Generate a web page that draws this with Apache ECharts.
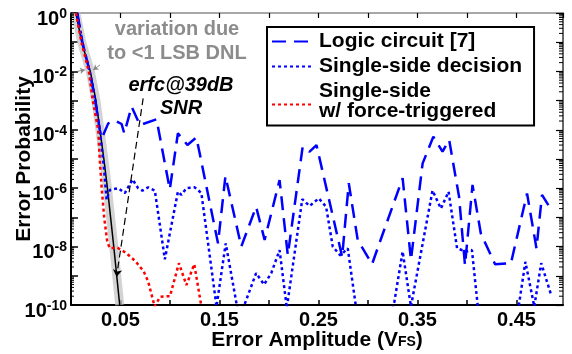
<!DOCTYPE html>
<html><head><meta charset="utf-8">
<script src="https://cdn.jsdelivr.net/npm/echarts@6/dist/echarts.min.js"></script>
<style>html,body{margin:0;padding:0;background:#fff}#c{width:572px;height:354px}</style>
</head><body><div id="c"></div>
<script>
const FONT = '"Liberation Sans", Arial, Helvetica, sans-serif';

// tick labels
const xTickLabels = ['0.05', '0.15', '0.25', '0.35', '0.45'];
const yLabelExponents = [0, -2, -4, -6, -8, -10];

// erfc @ 39dB SNR reference curve
const erfcX = [0.005, 0.0108, 0.0195, 0.0252, 0.0292, 0.0332, 0.0368, 0.040, 0.0432, 0.0462, 0.0492];
const erfcP = [1, 1e-1, 1e-2, 1e-3, 1e-4, 1e-5, 1e-6, 1e-7, 1e-8, 1e-9, 1e-10];

// Logic circuit [7]
const logicX = [0.0064, 0.0115, 0.0188, 0.0245, 0.029, 0.031, 0.0376, 0.0444, 0.0511, 0.0538, 0.0612, 0.0696, 0.0864, 0.0998, 0.108, 0.1176, 0.1267, 0.1485, 0.156, 0.172, 0.187, 0.1956, 0.2107, 0.219, 0.234, 0.241, 0.248, 0.2739, 0.2806, 0.2896, 0.3041, 0.3115, 0.335, 0.3434, 0.3552, 0.366, 0.3753, 0.382, 0.392, 0.398, 0.4056, 0.414, 0.4284, 0.4444, 0.4607, 0.4702, 0.4758, 0.4853];
const logicP = [1, 1e-1, 1e-2, 1e-3, 1e-4, 5.0e-5, 1.66e-4, 2.04e-4, 1.58e-4, 7.6e-5, 6.2e-4, 1.45e-4, 2.3e-4, 9.1e-7, 7.6e-5, 3.0e-5, 5.5e-5, 1.29e-8, 2.6e-6, 1e-8, 2.3e-7, 1.7e-8, 1.9e-6, 5.1e-9, 2.6e-5, 1.78e-5, 3.0e-5, 4.5e-9, 1.48e-6, 1.7e-8, 2.5e-9, 1.29e-8, 2.2e-6, 3.5e-9, 7.1e-6, 5.8e-5, 1.78e-5, 4.5e-5, 5.1e-7, 2.3e-9, 1.29e-6, 2.8e-8, 2.5e-9, 2.7e-9, 6.6e-7, 8.7e-9, 5.9e-7, 1.78e-7];

// Single-side decision
const singleX = [0.0064, 0.0115, 0.0188, 0.0245, 0.029, 0.033, 0.036, 0.0393, 0.0477, 0.0544, 0.0622, 0.0678, 0.0722, 0.078, 0.0847, 0.0948, 0.108, 0.1115, 0.1166, 0.125, 0.1317, 0.147, 0.1563, 0.168, 0.174, 0.187, 0.195, 0.2023, 0.2107, 0.218, 0.2336, 0.241, 0.2503, 0.2577, 0.2644, 0.272, 0.2796, 0.288, 0.30, 0.32, 0.3266, 0.335, 0.3434, 0.3652, 0.3737, 0.3814, 0.39, 0.399, 0.405, 0.412, 0.445, 0.452, 0.459, 0.468, 0.475, 0.4845];
const singleP = [1, 1e-1, 1e-2, 1e-3, 1e-4, 6.3e-6, 4.0e-7, 8.7e-7, 1e-6, 6.8e-7, 2.0e-6, 1e-6, 8.3e-7, 1.07e-6, 8.3e-7, 3.7e-9, 7.6e-7, 5.9e-7, 1e-6, 1.07e-6, 6.8e-7, 8.9e-11, 1.29e-8, 7.9e-11, 7.9e-11, 1.23e-9, 5.0e-10, 1.23e-9, 7.6e-9, 7.9e-11, 4.2e-7, 2.45e-7, 4.5e-7, 2.3e-7, 1e-8, 5.0e-9, 8.7e-9, 7.9e-11, 2.5e-11, 2.5e-11, 1.26e-10, 6.8e-9, 8.9e-11, 8.3e-7, 2.0e-7, 7.6e-7, 8.7e-9, 6.8e-9, 7.6e-9, 4.0e-11, 4.0e-11, 7.9e-11, 3.0e-9, 8.9e-11, 2.7e-9, 2.5e-10];

// Single-side w/ force-triggered
const forceX = [0.005, 0.0105, 0.018, 0.022, 0.0275, 0.029, 0.031, 0.0335, 0.0365, 0.039, 0.047, 0.055, 0.065, 0.0735, 0.078, 0.0845, 0.09, 0.0965, 0.1, 0.109, 0.1166, 0.1245, 0.1317];
const forceP = [1, 1e-1, 1e-2, 1e-3, 1e-4, 1e-5, 1e-6, 1e-7, 1.58e-8, 8.9e-9, 9.1e-9, 6.3e-9, 3.2e-9, 1.41e-9, 6.3e-10, 8.9e-11, 1.9e-10, 2.0e-10, 2.0e-10, 2.7e-9, 4.8e-10, 2.5e-9, 8.9e-11];

// annotation anchors (data space)
const snrArrow = [[0.0729, 1.2e-3], [0.046, 9.3e-10]];
const dnlArrows = [[[0.0071, 1.02e-2], [0.0141, 1.12e-2]], [[0.0292, 1.66e-2], [0.0225, 1.12e-2]]];

const names = ['Logic circuit [7]', 'Single-side decision', 'Single-side w/ force-triggered'];

const pairs = (xs, ys) => xs.map((x, i) => [x, ys[i]]);

// log minor tick positions (axis decoration)
const minorTicks = [];
for (let e = -10; e < 0; e++) for (let k = 2; k <= 9; k++) minorTicks.push([0, k * Math.pow(10, e)]);

const chart = echarts.init(document.getElementById('c'), null, {renderer: 'canvas'});
const lbl = {fontFamily: FONT, fontWeight: 'bold', color: '#000'};

chart.setOption({
  animation: false,
  backgroundColor: '#fff',
  grid: {left: 71, right: 9, top: 13, bottom: 49, containLabel: false, outerBoundsMode: 'none'},
  legend: {
    data: names,
    orient: 'vertical',
    left: 267, top: 27,
    itemWidth: 42, itemHeight: 14, itemGap: 4,
    padding: [4, 12, 1, 4],
    borderColor: '#000', borderWidth: 2,
    backgroundColor: '#fff',
    itemStyle: {opacity: 0},
    selectedMode: false,
    formatter: n => n === names[2] ? '{a|Single-side}\n{b|w/ force-triggered}' : n,
    textStyle: Object.assign({fontSize: 21, lineHeight: 21, rich: {
      a: Object.assign({fontSize: 21, lineHeight: 14}, lbl),
      b: Object.assign({fontSize: 21, lineHeight: 26}, lbl)
    }}, lbl)
  },
  xAxis: [{
    type: 'value', min: 0, max: 0.497, interval: 0.05, position: 'bottom',
    axisLine: {onZero: false, lineStyle: {color: '#000', width: 2}},
    axisTick: {inside: true, length: 5, lineStyle: {color: '#000', width: 1.5}},
    axisLabel: Object.assign({margin: 5, fontSize: 20, showMaxLabel: false,
      formatter: v => { const s = v.toFixed(2); return xTickLabels.includes(s) ? s : ''; }}, lbl),
    splitLine: {show: false},
    name: '{a|Error Amplitude (V}{s|FS}{a|)}', nameLocation: 'middle', nameGap: 24, nameMoveOverlap: false,
    nameTextStyle: {rich: {
      a: Object.assign({fontSize: 21, lineHeight: 22}, lbl),
      s: Object.assign({fontSize: 14, lineHeight: 14, verticalAlign: 'bottom', padding: [0, 0, 2, 0]}, lbl)
    }}
  }, {
    type: 'value', min: 0, max: 0.497, interval: 0.05, position: 'top',
    axisLine: {onZero: false, lineStyle: {color: '#8a8a8a', width: 1.5}},
    axisTick: {inside: true, length: 5, lineStyle: {color: '#000', width: 1.2}},
    axisLabel: {show: false}, splitLine: {show: false}
  }],
  yAxis: [{
    type: 'log', logBase: 10, min: 1e-10, max: 1, interval: 1, position: 'left',
    axisLine: {onZero: false, lineStyle: {color: '#000', width: 2}},
    axisTick: {inside: true, length: 7, lineStyle: {color: '#000', width: 1.5}},
    axisLabel: {margin: 4, padding: [8, 0, 0, 0],
      formatter: v => { const e = Math.round(Math.log10(v)); return yLabelExponents.includes(e) ? '{b|10}{s|' + e + '}' : ''; },
      rich: {
        b: Object.assign({fontSize: 20, lineHeight: 20, padding: [4, 0, 0, 0]}, lbl),
        s: Object.assign({fontSize: 14, lineHeight: 14, verticalAlign: 'top'}, lbl)
      }},
    splitLine: {show: false},
    name: 'Error Probability', nameLocation: 'middle', nameGap: 36, nameMoveOverlap: false,
    nameTextStyle: Object.assign({fontSize: 21}, lbl)
  }, {
    type: 'log', logBase: 10, min: 1e-10, max: 1, interval: 1, position: 'right',
    axisLine: {onZero: false, lineStyle: {color: '#333', width: 1.5}},
    axisTick: {inside: true, length: 7, lineStyle: {color: '#000', width: 1.2}},
    axisLabel: {show: false}, splitLine: {show: false}
  }],
  graphic: [
    {type: 'text', x: 177, y: 41, silent: true, style: {text: 'variation due\nto <1 LSB DNL', font: 'bold 20px ' + FONT, fill: '#8c8c8c', align: 'center', verticalAlign: 'middle', lineHeight: 24}},
    {type: 'text', x: 181, y: 96.5, silent: true, style: {text: 'erfc@39dB\nSNR', font: 'italic bold 20px ' + FONT, fill: '#000', align: 'center', verticalAlign: 'middle', lineHeight: 23}}
  ],
  series: [
    {
      name: 'band', type: 'line', data: pairs(erfcX, erfcP), symbol: 'none', silent: true,
      lineStyle: {color: '#c4c4c4', width: 9, opacity: 0.75}, z: 1,
      markLine: {silent: true, symbol: ['none', 'arrow'], symbolSize: 5, label: {show: false},
        lineStyle: {color: '#888', width: 1, type: 'solid'},
        data: dnlArrows.map(a => [{coord: a[0]}, {coord: a[1]}])}
    },
    {
      name: 'erfc', type: 'line', data: pairs(erfcX, erfcP), symbol: 'none', silent: true,
      lineStyle: {color: '#000', width: 1.5}, z: 2,
      markLine: {silent: true, symbol: ['none', 'arrow'], symbolSize: 7, label: {show: false},
        lineStyle: {color: '#000', width: 1.2, type: [7, 4]},
        data: [[{coord: snrArrow[0]}, {coord: snrArrow[1]}]]}
    },
    {
      name: names[0], type: 'line', data: pairs(logicX, logicP), symbol: 'none', color: '#0000ff',
      lineStyle: {color: '#0000ff', width: 2.5, type: [14, 8]}, z: 3
    },
    {
      name: names[1], type: 'line', data: pairs(singleX, singleP), symbol: 'none', color: '#0000ff',
      lineStyle: {color: '#0000ff', width: 2.5, type: [3, 3]}, z: 3
    },
    {
      name: names[2], type: 'line', data: pairs(forceX, forceP), symbol: 'none', color: '#ff0000',
      lineStyle: {color: '#ff0000', width: 2.5, type: [3, 3]}, z: 4
    },
    {
      name: 'minor', type: 'custom', silent: true, data: minorTicks, clip: false,
      renderItem: (params, api) => {
        const p = api.coord([0, api.value(1)]);
        const cs = params.coordSys;
        return {type: 'group', children: [
          {type: 'line', shape: {x1: cs.x, y1: p[1], x2: cs.x + 3, y2: p[1]}, style: {stroke: '#000', lineWidth: 1}},
          {type: 'line', shape: {x1: cs.x + cs.width, y1: p[1], x2: cs.x + cs.width - 4, y2: p[1]}, style: {stroke: '#000', lineWidth: 1}}
        ]};
      }
    }
  ]
});
</script>
</body></html>
